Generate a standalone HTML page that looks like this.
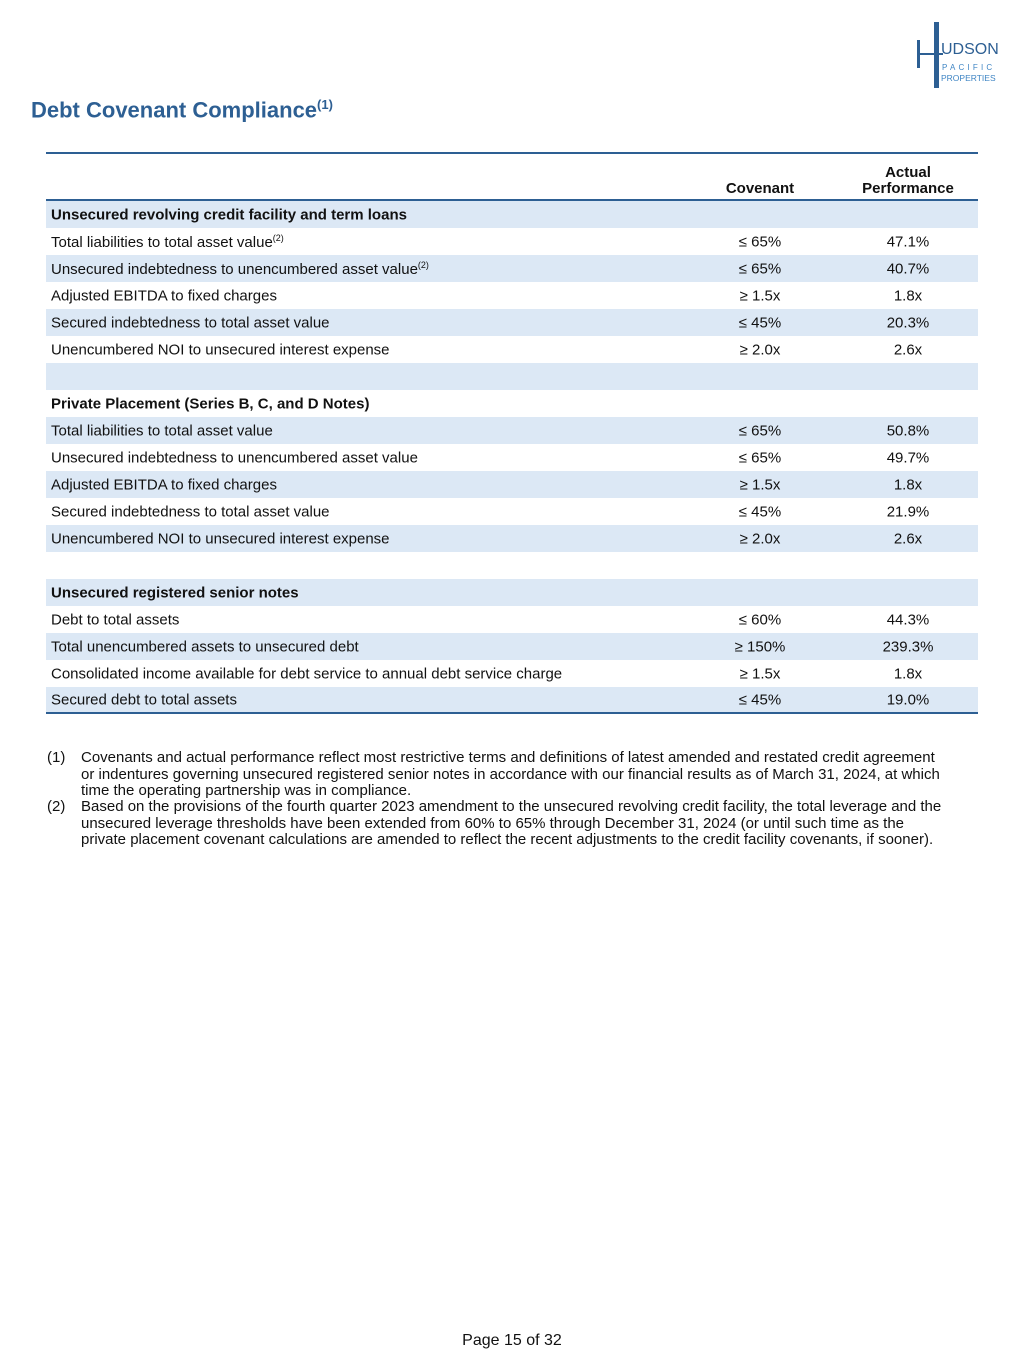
<!DOCTYPE html>
<html><head><meta charset="utf-8"><style>
body{margin:0;width:1024px;height:1365px;background:#fff;font-family:"Liberation Sans",Arial,sans-serif;color:#111;position:relative;overflow:hidden}
.a{position:absolute}
.row{position:absolute;left:46px;width:932px;font-size:15px}
.row.s{background:#dce8f5}
.row span{position:absolute;top:50%;transform:translateY(-50%);white-space:nowrap}
.l{left:5px}.c{left:654px;width:120px;text-align:center}
.p{left:802px;width:120px;text-align:center}
sup{font-size:9px}
.fn{position:absolute;font-size:15px;line-height:16.5px}
</style></head><body>
<div class="a" style="left:914px;top:20px;width:90px;height:70px">
<svg width="90" height="70"><rect x="3" y="20" width="3" height="28" fill="#2d5f93"/><rect x="20" y="2" width="5" height="66" fill="#2d5f93"/><rect x="3" y="33" width="26" height="2" fill="#2d5f93"/>
<text x="27" y="34" font-size="16" fill="#2d5f93" font-family="Liberation Sans">UDSON</text>
<text x="28" y="50" font-size="8" letter-spacing="3.2" fill="#3f85c4" font-family="Liberation Sans">PACIFIC</text>
<text x="27" y="61" font-size="8.5" fill="#3f85c4" font-family="Liberation Sans">PROPERTIES</text></svg></div>
<div class="a" style="left:31px;top:97px;font-size:22px;font-weight:bold;color:#2d5f93">Debt Covenant Compliance<sup style="font-size:13px">(1)</sup></div>
<div class="a" style="left:46px;top:152px;width:932px;height:2px;background:#2d5f93"></div>
<div class="a" style="left:700px;width:120px;top:180px;text-align:center;font-size:15px;font-weight:bold">Covenant</div>
<div class="a" style="left:840px;width:136px;top:165px;text-align:center;font-size:15px;font-weight:bold;line-height:15.5px">Actual<br>Performance</div>
<div class="a" style="left:46px;top:199px;width:932px;height:2px;background:#2d5f93"></div>
<div id="rows"></div>
<div class="a" style="left:46px;top:712px;width:932px;height:2px;background:#2d5f93"></div>
<div class="fn" style="left:47px;top:750px">(1)</div>
<div class="fn" style="left:81px;top:750px;width:920px">Covenants and actual performance reflect most restrictive terms and definitions of latest amended and restated credit agreement<br>or indentures governing unsecured registered senior notes in accordance with our financial results as of March 31, 2024, at which<br>time the operating partnership was in compliance.</div>
<div class="fn" style="left:47px;top:799px">(2)</div>
<div class="fn" style="left:81px;top:799px;width:920px">Based on the provisions of the fourth quarter 2023 amendment to the unsecured revolving credit facility, the total leverage and the<br>unsecured leverage thresholds have been extended from 60% to 65% through December 31, 2024 (or until such time as the<br>private placement covenant calculations are amended to reflect the recent adjustments to the credit facility covenants, if sooner).</div>
<div class="a" style="left:0;width:1024px;top:1332px;text-align:center;font-size:16px">Page 15 of 32</div>
<script>
const labels=["<b>Unsecured revolving credit facility and term loans</b>","Total liabilities to total asset value<sup>(2)</sup>","Unsecured indebtedness to unencumbered asset value<sup>(2)</sup>","Adjusted EBITDA to fixed charges","Secured indebtedness to total asset value","Unencumbered NOI to unsecured interest expense","","<b>Private Placement (Series B, C, and D Notes)</b>","Total liabilities to total asset value","Unsecured indebtedness to unencumbered asset value","Adjusted EBITDA to fixed charges","Secured indebtedness to total asset value","Unencumbered NOI to unsecured interest expense","","<b>Unsecured registered senior notes</b>","Debt to total assets","Total unencumbered assets to unsecured debt","Consolidated income available for debt service to annual debt service charge","Secured debt to total assets"];
const covenants=["","≤ 65%","≤ 65%","≥ 1.5x","≤ 45%","≥ 2.0x","","","≤ 65%","≤ 65%","≥ 1.5x","≤ 45%","≥ 2.0x","","","≤ 60%","≥ 150%","≥ 1.5x","≤ 45%"];
const actuals=["","47.1%","40.7%","1.8x","20.3%","2.6x","","","50.8%","49.7%","1.8x","21.9%","2.6x","","","44.3%","239.3%","1.8x","19.0%"];
const tops=[201,228,255,282,309,336,363,390,417,444,471,498,525,552,579,606,633,660,687];
const root=document.getElementById('rows');
labels.forEach((t,i)=>{
const r=document.createElement('div');


r.className='row'+(i%2===0?' s':'');
r.style.top=tops[i]+'px';
r.style.height=(i===18?25:27)+'px';
r.innerHTML='<span class="l">'+t+'</span><span class="c">'+covenants[i]+'</span><span class="p">'+actuals[i]+'</span>';
root.appendChild(r);
});
</script>
</body></html>
